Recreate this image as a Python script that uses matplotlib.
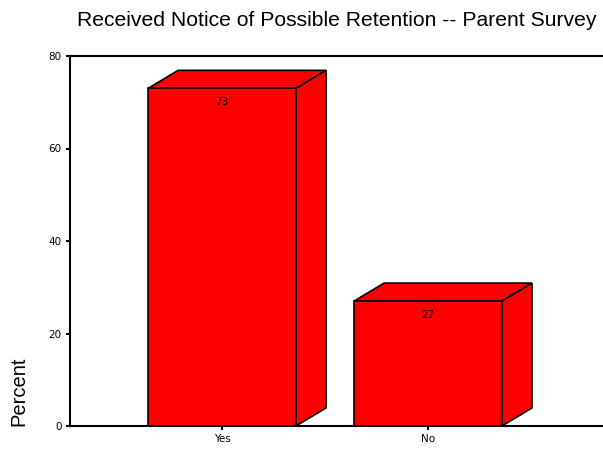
import matplotlib
matplotlib.use("Agg")
import matplotlib.pyplot as plt
from matplotlib.patches import Polygon

# chart data
categories = ["Yes", "No"]
percents = [73, 27]
title = "Received Notice of Possible Retention -- Parent Survey"

fig = plt.figure(figsize=(6.03, 4.51), dpi=100)
# axes box runs off the right edge like the original
ax = fig.add_axes([70 / 603, 25 / 451, 545 / 603, 370 / 451])
ax.set_ylim(0, 80)
ax.set_xlim(-0.738, 1.908)

width = 0.718
dx = 0.146   # 3d depth offset, x
dy = 3.9     # 3d depth offset, y (percent units)
red = "#ff0000"

xs = list(range(len(categories)))
ax.bar(xs, percents, width=width, color=red, edgecolor="black", linewidth=1.2, zorder=3)
for x, v in zip(xs, percents):
    l, r = x - width / 2, x + width / 2
    top = Polygon([(l, v), (l + dx, v + dy), (r + dx, v + dy), (r, v)],
                  closed=True, facecolor=red, edgecolor="black", linewidth=1.2, zorder=2)
    side = Polygon([(r, 0), (r + dx, dy), (r + dx, v + dy), (r, v)],
                   closed=True, facecolor=red, edgecolor="black", linewidth=1.2, zorder=2)
    ax.add_patch(top)
    ax.add_patch(side)
    ax.text(x, v - 1.9, str(v), ha="center", va="top", fontsize=7.5, zorder=4)

ax.set_xticks(xs)
ax.set_xticklabels(categories, fontsize=7.5)
ax.set_yticks([0, 20, 40, 60, 80])
ax.tick_params(axis="both", length=3, width=1.5, labelsize=7.5, pad=3)
for s in ["left", "top", "bottom"]:
    ax.spines[s].set_linewidth(1.5)
ax.spines["right"].set_visible(False)

fig.text(19 / 603, 1 - 391 / 451, "Percent", rotation=90, ha="center", va="center",
         fontsize=14.5, family="Liberation Sans")
fig.text(337 / 603, 1 - 21 / 451, title, ha="center", va="center", fontsize=15.2,
         family="Liberation Sans")

fig.savefig("out.png", dpi=100)
